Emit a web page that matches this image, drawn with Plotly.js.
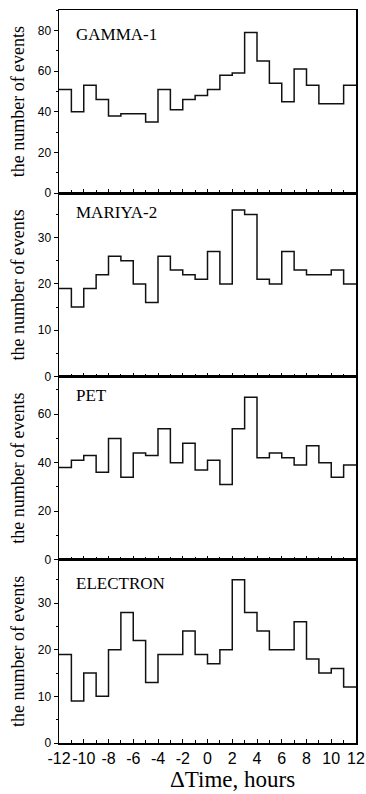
<!DOCTYPE html>
<html>
<head>
<meta charset="utf-8">
<script src="https://cdn.plot.ly/plotly-3.0.1.min.js"></script>
<style>html,body{margin:0;padding:0;background:#fff;}#chart{width:366px;height:794px;}</style>
</head>
<body>
<div id="chart"></div>
<script>
// bin start times (hours), last bin ends at binEnd
const binStart = [-12,-11,-10,-9,-8,-7,-6,-5,-4,-3,-2,-1,0,1,2,3,4,5,6,7,8,9,10,11];
const binEnd = 12;
const panelNames = ["GAMMA-1", "MARIYA-2", "PET", "ELECTRON"];
const gamma1   = [51,40,53,46,38,39,39,35,51,41,46,48,51,58,59,79,65,54,45,61,53,44,44,53];
const mariya2  = [19,15,19,22,26,25,20,16,26,23,22,21,27,20,36,35,21,20,27,23,22,22,23,20];
const pet      = [38,41,43,36,50,34,44,43,54,40,48,37,41,31,54,67,42,44,42,39,47,40,34,39];
const electron = [19,9,15,10,20,28,22,13,19,19,24,19,17,20,35,28,24,20,20,26,18,15,16,12];
const yMax = [90, 39.6, 75.5, 39.3];
const yDtick = [20, 10, 20, 10];
const xTickVals = [-12,-10,-8,-6,-4,-2,0,2,4,6,8,10,12];
const yTitle = "the number of events";
const xTitle = "\u0394Time, hours";

const SERIF = "Liberation Serif";
const SANS = "Liberation Sans";

const series = [gamma1, mariya2, pet, electron];
const traces = [];
const layout = {
  width: 366, height: 794,
  margin: {l: 59, r: 10, t: 10, b: 51},
  paper_bgcolor: "#fff", plot_bgcolor: "#fff",
  showlegend: false,
  annotations: [],
  font: {family: SANS, color: "#000"}
};
const n = series.length;
series.forEach((vals, i) => {
  const sfx = i === 0 ? "" : String(i + 1);
  traces.push({
    type: "scatter", mode: "lines",
    x: binStart.concat([binEnd]),
    y: vals.concat([vals[vals.length - 1]]),
    line: {shape: "hv", color: "#111", width: 1.5},
    xaxis: "x" + sfx, yaxis: "y" + sfx,
    hoverinfo: "skip"
  });
  const top = 1 - i / n, bot = 1 - (i + 1) / n;
  layout["xaxis" + sfx] = {
    domain: [0, 1], anchor: "y" + sfx,
    range: [binStart[0], binEnd],
    tickmode: "array", tickvals: xTickVals,
    ticktext: xTickVals.map(v => String(v)),
    showticklabels: i === n - 1,
    tickangle: 0,
    ticks: "inside", ticklen: 4, tickwidth: 1, tickcolor: "#000",
    minor: {dtick: 1, tick0: 0, ticks: "inside", ticklen: 3, tickwidth: 1, tickcolor: "#000"},
    showline: true, linecolor: "#000", linewidth: 1.5, mirror: true,
    showgrid: false, zeroline: false,
    tickfont: {family: SANS, size: 16, color: "#000"}
  };
  if (i > 0) layout["xaxis" + sfx].matches = "x";
  layout["yaxis" + sfx] = {
    domain: [bot, top], anchor: "x" + sfx,
    range: [0, yMax[i]],
    dtick: yDtick[i], tick0: 0,
    ticks: "outside", ticklen: 4, tickwidth: 1, tickcolor: "#000",
    minor: {dtick: yDtick[i] / 2, ticks: "outside", ticklen: 2, tickwidth: 1, tickcolor: "#000"},
    showline: true, linecolor: "#000", linewidth: 1.5, mirror: true,
    showgrid: false, zeroline: false,
    tickfont: {family: SANS, size: 12, color: "#000"},
    title: {text: yTitle, standoff: 8,
            font: {family: SERIF, size: 18, color: "#000"}}
  };
  layout.annotations.push({
    text: panelNames[i], showarrow: false,
    xref: "x" + sfx + " domain", yref: "y" + sfx + " domain",
    x: 0.05, y: 1, xanchor: "left", yanchor: "middle",
    yshift: (i === 0 || i === 3) ? -24 : -19,
    font: {family: SERIF, size: 17, color: "#000"}
  });
});
layout.annotations.push({
  text: xTitle, showarrow: false,
  xref: "paper", yref: "paper", x: 0.5825, y: 0,
  xanchor: "center", yanchor: "middle", yshift: -36,
  font: {family: SERIF, size: 23, color: "#000"}
});
Plotly.newPlot("chart", traces, layout, {staticPlot: true, displayModeBar: false});
</script>
</body>
</html>
